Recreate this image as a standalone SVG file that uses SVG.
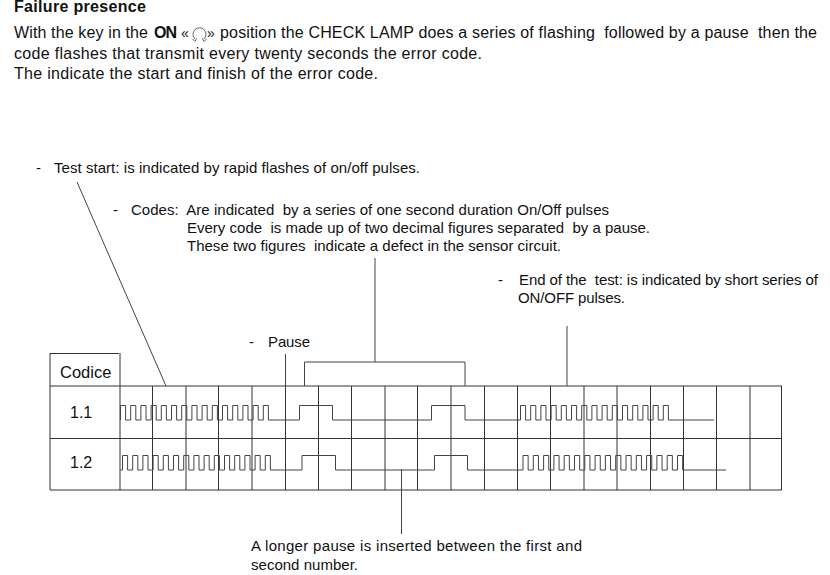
<svg xmlns="http://www.w3.org/2000/svg" width="830" height="575" viewBox="0 0 830 575">
<style>
text{font-family:"Liberation Sans",Arial,sans-serif;font-size:15px;fill:#111;white-space:pre}
.i{font-size:16px}
.b{font-weight:bold}
.l{fill:none;stroke:#333;stroke-width:1}
.w{fill:none;stroke:#444;stroke-width:1}
</style>
<rect width="830" height="575" fill="#fff"/>
<g id="intro">
<text class="b" x="14" y="12" textLength="132" style="font-size:16px">Failure presence</text>
<text class="i" x="14" y="37.500" textLength="134">With the key in the</text>
<text class="b i" x="154" y="37.500" textLength="23">ON</text>
<text class="i" x="181" y="37.500" style="font-size:14px">«</text><text class="i" x="207" y="37.500" style="font-size:14px">»</text>
<text class="i" x="220" y="37.500" textLength="597">position the CHECK LAMP does a series of flashing  followed by a pause  then the</text>
<text class="i" x="14" y="58.500" textLength="468">code flashes that transmit every twenty seconds the error code.</text>
<text class="i" x="14" y="79" textLength="364">The indicate the start and finish of the error code.</text>
<g id="key-icon" fill="none" stroke="#666" stroke-width="1"><path d="M195 39A6.500 6.500 0 1 1 204 39"/><path d="M192.500 39l2.500 2.500 1.500-3M202.500 38.500l1.500 3 2.500-2.500"/></g>
</g>
<g id="label-test-start"><text x="36" y="173">-</text><text x="54" y="173" textLength="366">Test start: is indicated by rapid flashes of on/off pulses.</text></g>
<g id="label-codes">
<text x="113" y="215">-</text><text x="131" y="215" textLength="478">Codes:  Are indicated  by a series of one second duration On/Off pulses</text>
<text x="187" y="233" textLength="463">Every code  is made up of two decimal figures separated  by a pause.</text>
<text x="187" y="251" textLength="374">These two figures  indicate a defect in the sensor circuit.</text>
</g>
<g id="label-end"><text x="498" y="285">-</text><text x="519" y="285" textLength="299">End of the  test: is indicated by short series of</text><text x="518" y="303" textLength="107">ON/OFF pulses.</text></g>
<g id="label-pause"><text x="249" y="347">-</text><text x="268" y="347" textLength="42">Pause</text></g>
<g id="label-longer"><text x="251" y="551" textLength="331">A longer pause is inserted between the first and</text><text x="251" y="570" textLength="107">second number.</text></g>
<g id="table">
<path class="l" d="M50 353.500H119M50 353V490M120 353V490M50 386H782M50 438.500H782M50 490H782M781.500 386V490"/>
<path class="l" d="M152.500 386V490M186 386V490M218.500 386V490M252 386V490M285.500 386V490M318.500 386V490M351.500 386V490M385 386V490M417.500 386V490M451 386V490M484.500 386V490M517.500 386V490M550.500 386V490M584 386V490M617 386V490M650.500 386V490M683.500 386V490M716.500 386V490M750 386V490"/>
<text x="60" y="378" style="font-size:16.500px">Codice</text>
<text x="70" y="418" style="font-size:16px">1.1</text>
<text x="70" y="468" style="font-size:16px">1.2</text>
</g>
<g id="wave-1-1">
<path class="w" d="M120.500 420
v-14.500h5.100v14.500h5.100v-14.500h5.100v14.500h5.100v-14.500h5.100v14.500h5.100v-14.500h5.100v14.500h5.100v-14.500h5.100v14.500h5.100
v-14.500h5.100v14.500h5.100v-14.500h5.100v14.500h5.100v-14.500h5.100v14.500h5.100v-14.500h5.100v14.500h5.100v-14.500h5.100v14.500h5.100
v-14.500h5.100v14.500h5.100v-14.500h5.100v14.500h5.100v-14.500h5.100v14.500h5.100v-14.500h5.100v14.500h5.100v-14.500h5.100v14.500
H299.500V405.500H332.500V420H431.500V405.500H465V420H520.500
v-14.500h5.100v14.500h5.100v-14.500h5.100v14.500h5.100v-14.500h5.100v14.500h5.100v-14.500h5.100v14.500h5.100v-14.500h5.100v14.500h5.100
v-14.500h5.100v14.500h5.100v-14.500h5.100v14.500h5.100v-14.500h5.100v14.500h5.100v-14.500h5.100v14.500h5.100v-14.500h5.100v14.500h5.100
v-14.500h5.100v14.500h5.100v-14.500h5.100v14.500h5.100v-14.500h5.100v14.500h5.100v-14.500h5.100v14.500h5.100v-14.500h5.100v14.500
H714"/>
</g>
<g id="wave-1-2">
<path class="w" d="M120.500 470H122.500
v-14.500h5.100v14.500h5.100v-14.500h5.100v14.500h5.100v-14.500h5.100v14.500h5.100v-14.500h5.100v14.500h5.100v-14.500h5.100v14.500h5.100
v-14.500h5.100v14.500h5.100v-14.500h5.100v14.500h5.100v-14.500h5.100v14.500h5.100v-14.500h5.100v14.500h5.100v-14.500h5.100v14.500h5.100
v-14.500h5.100v14.500h5.100v-14.500h5.100v14.500h5.100v-14.500h5.100v14.500h5.100v-14.500h5.100v14.500h5.100v-14.500h5.100v14.500
H302V455.500H335.500V470H434.500V455.500H467.500V470H523
v-14.500h5.150v14.500h5.150v-14.500h5.150v14.500h5.150v-14.500h5.150v14.500h5.150v-14.500h5.150v14.500h5.150v-14.500h5.150v14.500h5.150
v-14.500h5.150v14.500h5.150v-14.500h5.150v14.500h5.150v-14.500h5.150v14.500h5.150v-14.500h5.150v14.500h5.150v-14.500h5.150v14.500h5.150
v-14.500h5.150v14.500h5.150v-14.500h5.150v14.500h5.150v-14.500h5.150v14.500h5.150v-14.500h5.150v14.500h5.150v-14.500h5.150v14.500h5.150v-14.500h5.150v14.500
H726"/>
</g>
<g id="connectors" fill="none" stroke="#444" stroke-width="1">
<path d="M77 182L166 386"/>
<path d="M375 258V362M304.500 386V362H465V386"/>
<path d="M285.500 354V386"/>
<path d="M567 326V386"/>
<path d="M401.500 469V534"/>
</g>
</svg>
